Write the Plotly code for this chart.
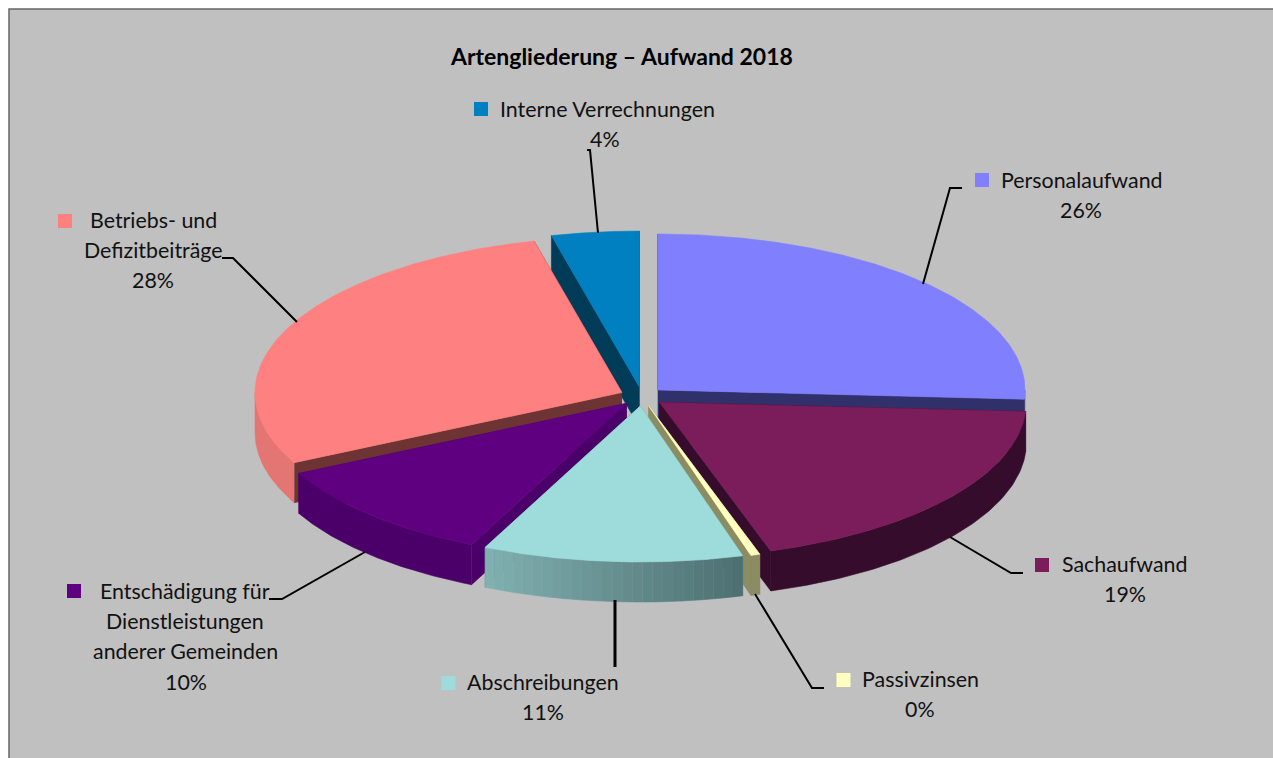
import math
import plotly.graph_objects as go

# Expenses by type, in percent
categories = ["Personalaufwand", "Sachaufwand", "Passivzinsen", "Abschreibungen",
              "Entschädigung für Dienstleistungen anderer Gemeinden",
              "Betriebs- und Defizitbeiträge", "Interne Verrechnungen"]
values = [25.6, 18.9, 0.4, 11.3, 10.49, 28.2, 3.8]
title_text = "Artengliederung – Aufwand 2018"
label_lines = [["Personalaufwand"], ["Sachaufwand"], ["Passivzinsen"], ["Abschreibungen"],
               ["Entschädigung für", "Dienstleistungen", "anderer Gemeinden"],
               ["Betriebs- und", "Defizitbeiträge"], ["Interne Verrechnungen"]]

top_colors = ["#8080ff", "#7b1c5b", "#ffffc0", "#9edbdb", "#5f0080", "#ff8080", "#0080c0"]
cut_colors = ["#30306a", "#360c2c", "#8c8c62", "#5c8585", "#4a0068", "#6e3434", "#003b57"]
rim_colors = ["#30306a", "#360c2c", "#8c8c62", None, "#4a0068", "#e37572", "#003b57"]

# Pie geometry on a pixel-sized axis pair
CX, CY, RX, RY = 642.0, 396.5, 367.0, 156.0
EXPLODE_X, EXPLODE_Y = 22.0, 9.5
DEPTH = 40.0
DRAW_ORDER = [6, 5, 0, 4, 1, 2, 3]
FONT = "Lato"
BG = "#c0c0c0"
INK = "#111111"

# Layout of each label: key square, text centre and line ys, percent line
KEYS = [(982, 180), (1042, 565), (843.5, 680), (448.5, 683), (74, 591), (65, 221), (481, 109)]
TEXT_X = [1081.5, 1124.5, 920.5, 543, 185, 153.5, 607.5]
TEXT_Y = [180, 564, 679, 682, 591, 220, 109]
PCT_X = [1081, 1125, 920, 543, 186, 153, 605]
LINE_STEP = 30.2
LEADERS = [
    ([923, 950, 962], [284, 188, 188], 2),
    ([950, 1011, 1023], [537, 573, 573], 2),
    ([755, 812, 824], [594, 688, 688], 2),
    ([615, 615], [600, 667], 3),
    ([365, 282, 269], [552, 599, 599], 2),
    ([297, 233, 222], [322, 258, 258], 2),
    ([598, 590, 587], [233, 150, 150], 2),
]

total = sum(values)
bounds = [0.0]
for v in values:
    bounds.append(bounds[-1] + v / total * 2 * math.pi)


def pt(apex, a):
    return apex[0] + RX * math.sin(a), apex[1] - RY * math.cos(a)


def arc(apex, a0, a1, n=80):
    pts = [pt(apex, a0 + (a1 - a0) * i / n) for i in range(n + 1)]
    return [p[0] for p in pts], [p[1] for p in pts]


def poly(fig, xs, ys, color):
    fig.add_trace(go.Scatter(x=xs, y=ys, mode="lines", fill="toself", fillcolor=color,
                             line=dict(width=0.6, color=color), hoverinfo="skip",
                             showlegend=False))


def blend(c0, c1, t):
    return "rgb(%d,%d,%d)" % tuple(round(a + (b - a) * t) for a, b in zip(c0, c1))


fig = go.Figure()

for i in DRAW_ORDER:
    a0, a1 = bounds[i], bounds[i + 1]
    mid = (a0 + a1) / 2
    apex = (CX + EXPLODE_X * math.sin(mid), CY - EXPLODE_Y * math.cos(mid))

    # Cut faces hanging under the two straight edges
    for a in (a0, a1):
        px, py = pt(apex, a)
        poly(fig, [apex[0], px, px, apex[0]], [apex[1], py, py + DEPTH, apex[1] + DEPTH],
             cut_colors[i])

    # Rim: only the part of the arc that faces the viewer
    r0, r1 = max(a0, math.pi / 2), min(a1, 3 * math.pi / 2)
    if r1 > r0:
        if rim_colors[i]:
            xs, ys = arc(apex, r0, r1)
            poly(fig, xs + xs[::-1], ys + [y + DEPTH for y in ys[::-1]], rim_colors[i])
        else:
            # Shaded rim, lighter on the left and darker on the right
            bands = 26
            for b in range(bands):
                s0 = r0 + (r1 - r0) * b / bands
                s1 = r0 + (r1 - r0) * (b + 1) / bands
                xs, ys = arc(apex, s0, s1, 6)
                poly(fig, xs + xs[::-1], ys + [y + DEPTH for y in ys[::-1]],
                     blend((78, 112, 114), (128, 176, 176), b / (bands - 1)))

    # Top face
    xs, ys = arc(apex, a0, a1, 160)
    poly(fig, [apex[0]] + xs + [apex[0]], [apex[1]] + ys + [apex[1]], top_colors[i])

# Leader lines
for lx, ly, w in LEADERS:
    fig.add_trace(go.Scatter(x=lx, y=ly, mode="lines", line=dict(color="#000000", width=w),
                             hoverinfo="skip", showlegend=False))

# Legend keys
fig.add_trace(go.Scatter(x=[k[0] for k in KEYS], y=[k[1] for k in KEYS], mode="markers",
                         marker=dict(symbol="square", size=14, color=top_colors, line=dict(width=0)),
                         hoverinfo="skip", showlegend=False))

annotations = [dict(x=621, y=56, text="<b>%s</b>" % title_text, showarrow=False,
                    font=dict(family=FONT, size=23, color="#000000"))]
for i, lines in enumerate(label_lines):
    y = TEXT_Y[i]
    for line in lines:
        annotations.append(dict(x=TEXT_X[i], y=y, text=line, showarrow=False,
                                font=dict(family=FONT, size=21.4, color=INK)))
        y += LINE_STEP
    annotations.append(dict(x=PCT_X[i], y=y, text="%.0f%%" % values[i], showarrow=False,
                            font=dict(family=FONT, size=21.4, color=INK)))

fig.update_layout(
    width=1273, height=758, margin=dict(l=0, r=0, t=0, b=0),
    paper_bgcolor="#ffffff", plot_bgcolor="#ffffff", showlegend=False,
    xaxis=dict(range=[0, 1273], visible=False, fixedrange=True),
    yaxis=dict(range=[758, 0], visible=False, fixedrange=True),
    annotations=annotations,
    shapes=[dict(type="rect", xref="x", yref="y", x0=9, y0=9, x1=1300, y1=800, layer="below",
                 fillcolor=BG, line=dict(color="#666666", width=1.5))],
)
fig.write_html("out.html", config={"displayModeBar": False})
